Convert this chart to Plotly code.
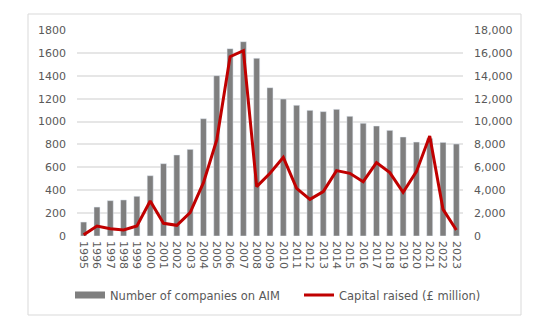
import plotly.graph_objects as go

years = [str(y) for y in range(1995, 2024)]
companies = [122, 253, 309, 315, 347, 527, 632, 708, 757, 1025, 1401, 1637, 1698, 1553,
             1296, 1197, 1142, 1098, 1087, 1107, 1046, 985, 961, 923, 865, 821, 852, 818, 804]
capital = [100, 874, 641, 524, 874, 3058, 1107, 932, 2039, 4660, 8389, 15670, 16195, 4311,
           5476, 6875, 4165, 3204, 3874, 5710, 5476, 4748, 6408, 5534, 3816, 5622, 8739, 2330, 524]

BAR = "#7f7f7f"
RED = "#c00000"
TXT = "#595959"
FONT = "DejaVu Sans"

L, R, T, B = 77, 87, 30, 94
W, H = 550, 330
pw, ph = W - L - R, H - T - B

def px2paper_x(px):
    return (px - L) / pw

def px2paper_y(py):
    return (H - B - py) / ph

fig = go.Figure()
fig.add_trace(go.Bar(x=years, y=companies, marker_color=BAR, showlegend=False,
                     name="Number of companies on AIM"))
fig.add_trace(go.Scatter(x=[None], y=[None], mode="lines", line=dict(color=BAR, width=7),
                         name="Number of companies on AIM", legend="legend"))
fig.add_trace(go.Scatter(x=years, y=capital, mode="lines", yaxis="y2",
                         line=dict(color=RED, width=3), name="Capital raised (£ million)",
                         legend="legend2"))

fig.add_shape(type="rect", xref="paper", yref="paper",
              x0=px2paper_x(28), x1=px2paper_x(521), y0=px2paper_y(315), y1=px2paper_y(14),
              line=dict(color="#d9d9d9", width=1), fillcolor="rgba(0,0,0,0)", layer="below")

legfont = dict(size=11.5, color=TXT, family=FONT)
fig.update_layout(
    width=W, height=H, margin=dict(l=L, r=R, t=T, b=B, pad=0),
    paper_bgcolor="white", plot_bgcolor="white",
    font=dict(family=FONT, size=11, color=TXT),
    bargap=0.55,
    xaxis=dict(type="category", tickangle=90, showgrid=False, showline=False, zeroline=False,
               ticks="", ticklabelstandoff=4, tickfont=dict(size=11, color=TXT)),
    yaxis=dict(range=[0, 1800], dtick=200, showgrid=True, gridcolor="#e6e6e6", gridwidth=1.5,
               zeroline=False, showline=False, ticks="", ticklabelstandoff=10,
               tickfont=dict(size=11, color=TXT)),
    yaxis2=dict(range=[0, 18000], dtick=2000, overlaying="y", side="right", showgrid=False,
                zeroline=False, showline=False, ticks="", tickformat=",d", ticklabelstandoff=10,
                tickfont=dict(size=11, color=TXT)),
    legend=dict(orientation="h", x=px2paper_x(70), xanchor="left", y=px2paper_y(295),
                yanchor="middle", font=legfont, itemwidth=30, bgcolor="rgba(0,0,0,0)"),
    legend2=dict(orientation="h", x=px2paper_x(299), xanchor="left", y=px2paper_y(295),
                 yanchor="middle", font=legfont, itemwidth=30, bgcolor="rgba(0,0,0,0)"),
    showlegend=True,
)

fig.write_html("out.html")
